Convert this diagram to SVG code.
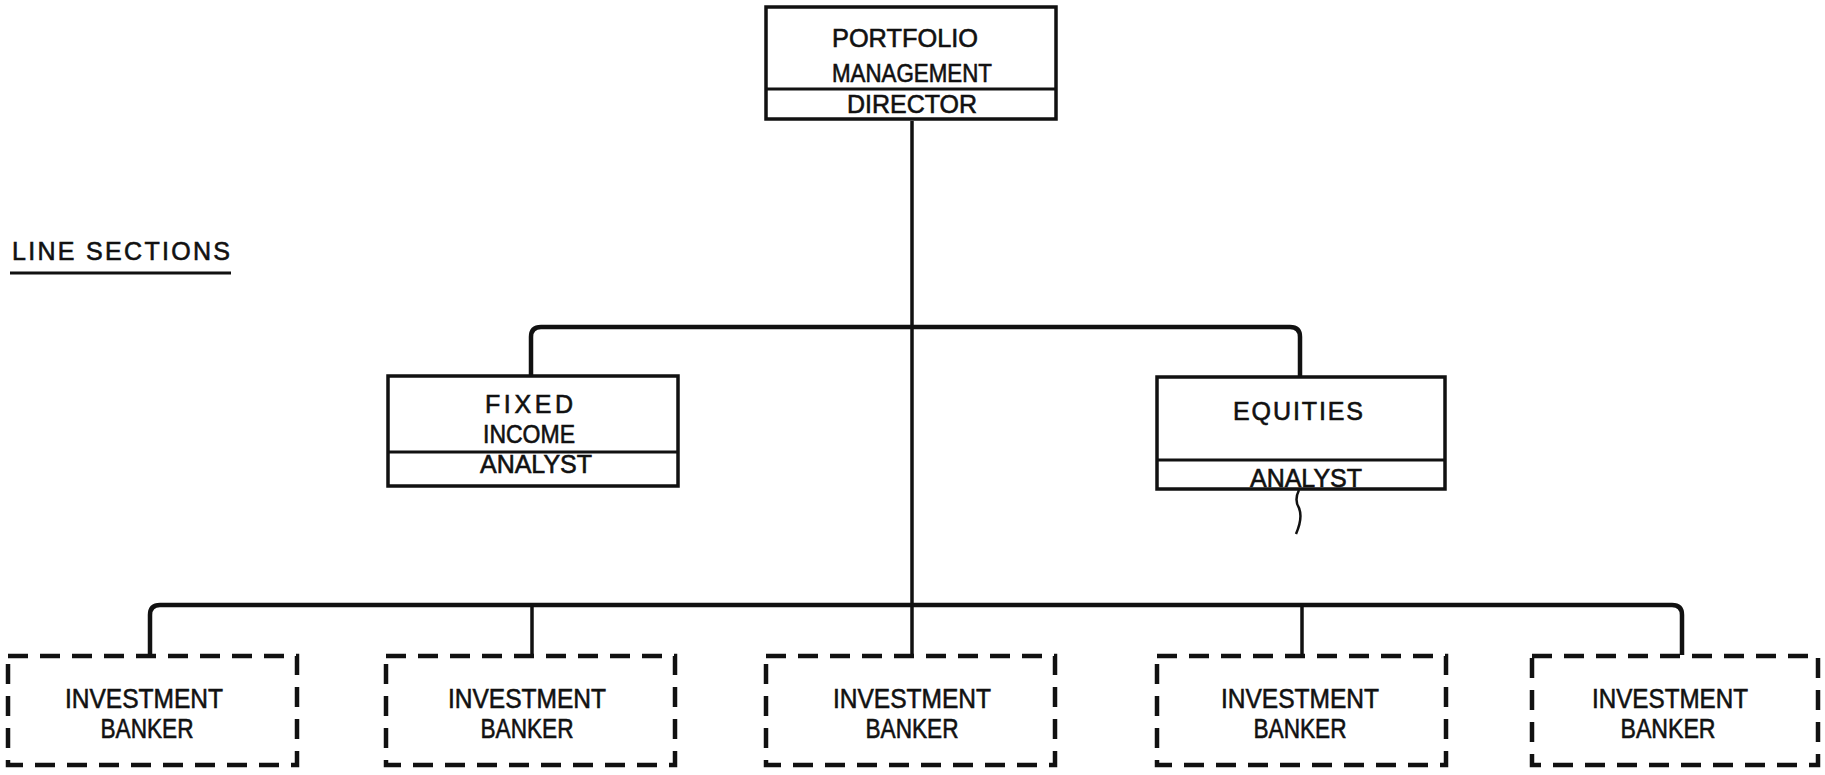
<svg xmlns="http://www.w3.org/2000/svg" width="1825" height="775" viewBox="0 0 1825 775">
<style>
.bg{fill:#ffffff}
.box{fill:none;stroke:#111;stroke-width:3.5}
.div{stroke:#111;stroke-width:3}
.dash{fill:none;stroke:#111;stroke-width:4.5;stroke-dasharray:20 12}
.con{fill:none;stroke:#111;stroke-width:3.5;stroke-linejoin:round}
.bus{fill:none;stroke:#111;stroke-width:4.5;stroke-linejoin:round}
text{font-family:"Liberation Sans","DejaVu Sans",sans-serif;fill:#111;stroke:#111;stroke-width:0.6;text-anchor:middle}
.t{font-size:25px}
.tb{font-size:28px}
</style>
<rect class="bg" x="0" y="0" width="1825" height="775"/>

<g id="connectors">
  <line class="con" x1="912" y1="121" x2="912" y2="655"/>
  <path class="bus" d="M531,376 V337 Q531,327 541,327 H1290 Q1300,327 1300,337 V377"/>
  <path class="bus" d="M150,655 V615 Q150,605 160,605 H1672 Q1682,605 1682,615 V655"/>
  <line class="con" x1="532" y1="605" x2="532" y2="655"/>
  <line class="con" x1="1302" y1="605" x2="1302" y2="655"/>
  <path fill="none" stroke="#111" stroke-width="2.5" d="M1299,490 q-5,10 0,18 q4,10 -3,26"/>
</g>

<g id="line-sections">
  <text x="121" y="260" class="t" textLength="218" lengthAdjust="spacing">LINE SECTIONS</text>
  <line x1="10" y1="273" x2="231" y2="273" stroke="#111" stroke-width="3"/>
</g>

<g id="director">
  <rect class="box" x="766" y="7" width="290" height="112"/>
  <line class="div" x1="766" y1="89" x2="1056" y2="89"/>
  <text x="905" y="47" class="t" textLength="146" lengthAdjust="spacingAndGlyphs">PORTFOLIO</text>
  <text x="912" y="82" class="t" textLength="160" lengthAdjust="spacingAndGlyphs">MANAGEMENT</text>
  <text x="912" y="113" class="t" textLength="130" lengthAdjust="spacingAndGlyphs">DIRECTOR</text>
</g>

<g id="fixed-income">
  <rect class="box" x="388" y="376" width="290" height="110"/>
  <line class="div" x1="388" y1="452" x2="678" y2="452"/>
  <text x="529" y="413" class="t" textLength="88" lengthAdjust="spacing">FIXED</text>
  <text x="529" y="443" class="t" textLength="92" lengthAdjust="spacingAndGlyphs">INCOME</text>
  <text x="536" y="473" class="t" textLength="112" lengthAdjust="spacingAndGlyphs">ANALYST</text>
</g>

<g id="equities">
  <rect class="box" x="1157" y="377" width="288" height="112"/>
  <line class="div" x1="1157" y1="460" x2="1445" y2="460"/>
  <text x="1298" y="420" class="t" textLength="130" lengthAdjust="spacing">EQUITIES</text>
  <text x="1306" y="487" class="t" textLength="112" lengthAdjust="spacingAndGlyphs">ANALYST</text>
</g>

<g id="banker-1">
  <rect class="dash" x="8" y="656" width="289" height="109"/>
  <text x="144" y="708" class="tb" textLength="158" lengthAdjust="spacingAndGlyphs">INVESTMENT</text>
  <text x="147" y="738" class="tb" textLength="93" lengthAdjust="spacingAndGlyphs">BANKER</text>
</g>

<g id="banker-2">
  <rect class="dash" x="386" y="656" width="289" height="109"/>
  <text x="527" y="708" class="tb" textLength="158" lengthAdjust="spacingAndGlyphs">INVESTMENT</text>
  <text x="527" y="738" class="tb" textLength="93" lengthAdjust="spacingAndGlyphs">BANKER</text>
</g>

<g id="banker-3">
  <rect class="dash" x="766" y="656" width="289" height="109"/>
  <text x="912" y="708" class="tb" textLength="158" lengthAdjust="spacingAndGlyphs">INVESTMENT</text>
  <text x="912" y="738" class="tb" textLength="93" lengthAdjust="spacingAndGlyphs">BANKER</text>
</g>

<g id="banker-4">
  <rect class="dash" x="1157" y="656" width="289" height="109"/>
  <text x="1300" y="708" class="tb" textLength="158" lengthAdjust="spacingAndGlyphs">INVESTMENT</text>
  <text x="1300" y="738" class="tb" textLength="93" lengthAdjust="spacingAndGlyphs">BANKER</text>
</g>

<g id="banker-5">
  <rect class="dash" x="1532" y="656" width="286" height="109"/>
  <text x="1670" y="708" class="tb" textLength="156" lengthAdjust="spacingAndGlyphs">INVESTMENT</text>
  <text x="1668" y="738" class="tb" textLength="95" lengthAdjust="spacingAndGlyphs">BANKER</text>
</g>
</svg>
